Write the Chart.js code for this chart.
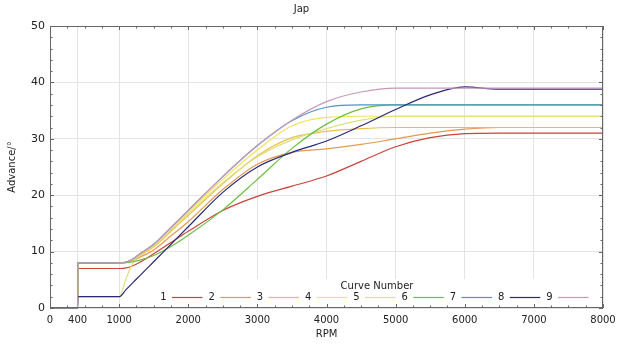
<!DOCTYPE html>
<html><head><meta charset="utf-8">
<script src="https://cdn.jsdelivr.net/npm/chart.js@4/dist/chart.umd.min.js"></script>
<style>html,body{margin:0;padding:0;background:#fff}</style>
</head><body>
<canvas id="c" width="631" height="347"></canvas>
<script>
const rpm = [0,400,401,1000,1100,1200,1300,1500,1750,2000,2500,3000,3500,4000,4500,5000,5500,6000,6500,8000];
const curve1 = [0,0,7,7,7.1,7.5,8.1,9.6,11.6,13.6,17.3,19.8,21.6,23.4,26,28.6,30.2,30.9,31,31];
const curve2 = [0,0,8,8,8.1,8.4,9.0,10.3,12.8,15.3,21,25.5,27.6,28.2,29,30,31,31.7,32,32];
const curve3 = [0,0,8,8,8.1,8.5,9.3,10.8,13.6,16.4,22,27,30.2,31.3,31.8,32,32,32,32,32];
const curve4 = [0,0,8,8,8.1,8.6,9.5,11.1,14,17,22.8,28,32.3,33.8,34,34,34,34,34,34];
const curve5 = [0,0,2,2,5.2,8.0,9.6,11,13.9,16.7,22.2,26.8,29.8,31.8,33.3,34,34,34,34,34];
const curve6 = [0,0,8,8,8.05,8.2,8.5,9.3,10.9,12.9,17.4,22.8,28.3,32.6,35.3,36,36,36,36,36];
const curve7 = [0,0,8,8,8.15,8.7,9.6,11.3,14.3,17.3,23.3,28.8,33.2,35.6,36,36,36,36,36,36];
const curve8 = [0,0,2,2,3.25,4.5,5.75,8.2,11.3,14.4,20.5,25,27.6,29.6,32.3,35.2,37.8,39.2,38.8,38.8];
const curve9 = [0,0,8,8,8.15,8.7,9.6,11.3,14.3,17.3,23.3,28.8,33.3,36.6,38.3,39,39,39,39,39];
const curveLabels = ['1','2','3','4','5','6','7','8','9'];
const curveColors = ['#c8443c','#e39a4c','#e9c04e','#f3e35c','#dfe07a','#6cbf44','#4f93c8','#2b2a78','#c898b8'];
const xTickValues = [0,400,1000,2000,3000,4000,5000,6000,7000,8000];
const yTickValues = [0,10,20,30,40,50];
const chartTitle = 'Jap';
const xTitle = 'RPM';
const yTitle = 'Advance/°';
const legendTitle = 'Curve Number';

const allCurves = [curve1,curve2,curve3,curve4,curve5,curve6,curve7,curve8,curve9];
const datasets = allCurves.map((vals,i)=>({
  label: curveLabels[i],
  data: vals.map((v,j)=>({x: rpm[j], y: v})),
  borderColor: curveColors[i],
  backgroundColor: curveColors[i],
  borderWidth: 1.2,
  pointRadius: 0,
  fill: false,
  order: allCurves.length - i,
  clip: { left: 0, top: 0, right: 0, bottom: 2 },
  cubicInterpolationMode: 'monotone'
}));

const FONT = 'DejaVu Sans';

const framePlugin = {
  id: 'frameLegend',
  afterDatasetsDraw(chart) {
    const ctx = chart.ctx, a = chart.chartArea;
    const xs = chart.scales.x, ys = chart.scales.y;
    ctx.save();
    ctx.fillStyle = '#ffffff';
    ctx.fillRect(150, 279, a.right - 151, a.bottom - 279);
    ctx.fillStyle = '#222';
    ctx.font = '10px "' + FONT + '"';
    ctx.textAlign = 'center';
    ctx.textBaseline = 'middle';
    ctx.fillText(legendTitle, 377, 286);
    chart.data.datasets.forEach((ds, i) => {
      const lx = 163.5 + i * 48.25;
      ctx.fillStyle = '#222';
      ctx.fillText(ds.label, lx, 297.5);
      ctx.strokeStyle = ds.borderColor;
      ctx.lineWidth = 1.2;
      ctx.beginPath();
      ctx.moveTo(lx + 8.5, 297.5);
      ctx.lineTo(lx + 39, 297.5);
      ctx.stroke();
    });
    ctx.strokeStyle = '#666';
    ctx.lineWidth = 1;
    ctx.strokeRect(a.left + 0.5, a.top + 0.5, a.right - a.left - 1, a.bottom - a.top - 1);
    ctx.beginPath();
    for (let v = 0; v <= 8000; v += 250) {
      const px = Math.round(xs.getPixelForValue(v)) + 0.5;
      const major = xTickValues.includes(v);
      const L = major ? 4 : 2.5;
      ctx.moveTo(px, a.bottom); ctx.lineTo(px, a.bottom - L);
      ctx.moveTo(px, a.top); ctx.lineTo(px, a.top + L);
    }
    for (let v = 0; v <= 50; v += 2) {
      const py = Math.round(ys.getPixelForValue(v)) + 0.5;
      const major = yTickValues.includes(v);
      const L = major ? 4 : 2.5;
      ctx.moveTo(a.left, py); ctx.lineTo(a.left + L, py);
      ctx.moveTo(a.right, py); ctx.lineTo(a.right - L, py);
    }
    ctx.stroke();
    ctx.restore();
  }
};

new Chart(document.getElementById('c'), {
  type: 'line',
  data: { datasets },
  options: {
    responsive: false,
    animation: false,
    devicePixelRatio: 1,
    layout: { padding: { left: 0, right: 28, top: 0, bottom: 0 } },
    plugins: {
      legend: { display: false },
      tooltip: { enabled: false },
      title: {
        display: true, text: chartTitle, color: '#222',
        font: { family: FONT, size: 10, weight: 'normal', lineHeight: 1.2 },
        padding: { top: 3, bottom: 11 }
      }
    },
    scales: {
      x: {
        type: 'linear', min: 0, max: 8000,
        afterBuildTicks: s => { s.ticks = xTickValues.map(v => ({ value: v })); },
        afterFit: s => { s.height = 39; },
        ticks: { color: '#222', font: { family: FONT, size: 10 }, padding: 6, autoSkip: false, maxRotation: 0,
                 callback: v => String(v) },
        grid: { color: '#e4e4e4', lineWidth: 1, drawTicks: false },
        border: { display: false },
        title: { display: true, text: xTitle, color: '#222', font: { family: FONT, size: 10, lineHeight: 1.2 }, padding: { top: 0, bottom: 7 } }
      },
      y: {
        min: 0, max: 50,
        afterBuildTicks: s => { s.ticks = yTickValues.map(v => ({ value: v })); },
        afterFit: s => { s.width = 50; },
        ticks: { color: '#222', font: { family: FONT, size: 11 }, padding: 5, callback: v => String(v) },
        grid: { color: '#e4e4e4', lineWidth: 1, drawTicks: false },
        border: { display: false },
        title: { display: true, text: yTitle, color: '#222', font: { family: FONT, size: 10, lineHeight: 1.2 }, padding: { top: 6, bottom: 0 } }
      }
    }
  },
  plugins: [framePlugin]
});
</script>
</body></html>
